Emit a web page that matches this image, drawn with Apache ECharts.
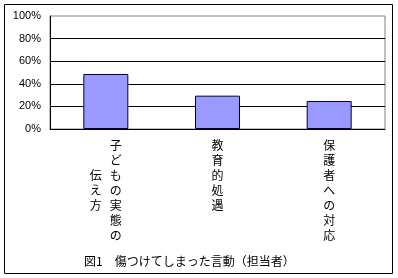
<!DOCTYPE html>
<html><head><meta charset="utf-8">
<script src="https://cdn.jsdelivr.net/npm/echarts@6/dist/echarts.min.js"></script>
<style>html,body{margin:0;padding:0;background:#fff}#c{width:398px;height:278px}</style>
</head><body><div id="c"></div>
<script>
var categories = ['子どもの実態の伝え方', '教育的処遇', '保護者への対応'];
var values = [48.7, 29.5, 24.8];
var yTicks = [0, 20, 40, 60, 80, 100];
var titleText = '図1　傷つけてしまった言動（担当者）';

function verticalLabel(name) {
  var per = 7, cols = [];
  for (var i = 0; i < name.length; i += per) cols.push(name.slice(i, i + per));
  var rows = cols[0].length, lines = [];
  var offs = cols.map(function (c) { return Math.floor((rows - c.length) / 2); });
  for (var r = 0; r < rows; r++) {
    var line = '';
    for (var k = cols.length - 1; k >= 0; k--) {
      var ch = cols[k].charAt(r - offs[k]);
      line += '{c|' + (r - offs[k] >= 0 && ch ? ch : '　') + '}';
    }
    lines.push(line);
  }
  return lines.join('\n');
}

var chart = echarts.init(document.getElementById('c'), null, {renderer: 'canvas'});
chart.setOption({
  animation: false,
  title: {
    text: titleText, left: 79, top: 250,
    textStyle: {fontSize: 12, fontWeight: 'normal', color: '#000', fontFamily: 'Noto Sans CJK JP'}
  },
  graphic: [{
    type: 'rect', shape: {x: 4.5, y: 4.5, width: 388, height: 269},
    style: {fill: null, stroke: '#000', lineWidth: 1}, silent: true, z: 0
  }],
  grid: {left: 50, top: 16, right: 13, bottom: 149, show: true, borderColor: '#808080', borderWidth: 1, backgroundColor: 'transparent'},
  xAxis: {
    type: 'category', data: categories,
    axisLine: {lineStyle: {color: '#000', width: 1}},
    axisTick: {inside: true, length: 3, lineStyle: {color: '#000'}},
    axisLabel: {
      interval: 0, margin: 9, lineHeight: 15,
      formatter: verticalLabel,
      rich: {c: {width: 20, align: 'center', fontSize: 12, lineHeight: 15, color: '#000', fontFamily: 'Noto Sans CJK JP'}}
    }
  },
  yAxis: {
    type: 'value', min: yTicks[0], max: yTicks[yTicks.length - 1], interval: 20,
    axisLine: {show: true, lineStyle: {color: '#000', width: 1}},
    axisTick: {show: false},
    axisLabel: {formatter: '{value}%', fontSize: 11, color: '#000', margin: 9, fontFamily: 'Liberation Sans'},
    splitLine: {show: true, showMaxLine: false, lineStyle: {color: '#000', width: 1}}
  },
  series: [{
    type: 'bar', data: values, barWidth: 45,
    itemStyle: {color: '#9999FF', borderColor: '#000033', borderWidth: 1}
  }]
});
</script></body></html>
